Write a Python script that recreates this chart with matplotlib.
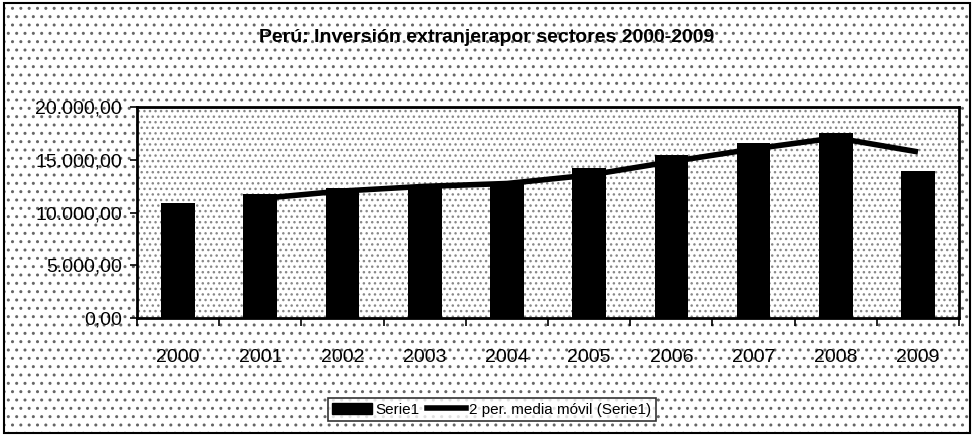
import numpy as np
import pandas as pd
import matplotlib
matplotlib.use('Agg')
import matplotlib.pyplot as plt
from matplotlib.patches import Rectangle, Patch
from matplotlib.lines import Line2D
from matplotlib.ticker import FuncFormatter

plt.rcParams['font.family'] = ['Liberation Sans', 'DejaVu Sans']
plt.rcParams['hatch.linewidth'] = 1.0

# datos
anios = ['2000', '2001', '2002', '2003', '2004', '2005', '2006', '2007', '2008', '2009']
serie1 = [10930, 11720, 12360, 12600, 12900, 14190, 15450, 16600, 17560, 13930]
# media movil de 2 periodos (como en Excel)
media_movil = pd.Series(serie1).rolling(2).mean().values

titulo = 'Perú: Inversión extranjerapor sectores 2000-2009'
yticks = [0, 5000, 10000, 15000, 20000]

fig = plt.figure(figsize=(9.74, 4.36), dpi=100)
fig.patch.set_facecolor('white')
# fondo punteado del grafico completo
fondo = Rectangle((0.004, 0.006), 0.992, 0.988, transform=fig.transFigure,
                  facecolor='white', edgecolor='#666666', hatch='..', lw=0, zorder=0)
fig.patches.append(fondo)
borde = Rectangle((0.004, 0.006), 0.992, 0.988, transform=fig.transFigure,
                  facecolor='none', edgecolor='black', lw=1.5, zorder=1)
fig.patches.append(borde)

ax = fig.add_axes([0.1407, 0.2706, 0.844, 0.484])
ax.set_zorder(5)
ax.patch.set_facecolor('white')
ax.patch.set_edgecolor('#888888')
ax.patch.set_hatch('...')

x = np.arange(len(anios))
ax.plot(x, media_movil, color='black', lw=4, zorder=2, solid_capstyle='butt')
ax.bar(x, serie1, width=0.41, color='black', zorder=3)

ax.set_xlim(-0.5, len(anios) - 0.5)
ax.set_ylim(0, 20000)
ax.set_yticks(yticks)
ax.yaxis.set_major_formatter(FuncFormatter(
    lambda v, p: '{:,.2f}'.format(v).replace(',', 'X').replace('.', ',').replace('X', '.')))
ax.set_xticks(x)
ax.set_xticklabels(anios)
ax.set_xticks(np.arange(-0.5, len(anios)), minor=True)
ax.tick_params(axis='x', which='major', length=0, pad=22, labelsize=14)
ax.tick_params(axis='x', which='minor', length=6, width=1.2, direction='out')
ax.tick_params(axis='y', length=5, width=1.2, direction='out', labelsize=14, pad=6)
for s in ax.spines.values():
    s.set_linewidth(2)

fig.text(0.5, 0.915, titulo, ha='center', va='center', fontsize=14, fontweight='bold')

h1 = Patch(facecolor='black', edgecolor='black')
h2 = Line2D([0], [0], color='black', lw=4)
leg = fig.legend([h1, h2], ['Serie1', '2 per. media móvil (Serie1)'],
                 loc='center', bbox_to_anchor=(0.505, 0.06), ncol=2, fontsize=11,
                 frameon=True, fancybox=False, edgecolor='black', handlelength=2.6,
                 handletextpad=0.2, columnspacing=0.5, borderpad=0.3)
leg.get_frame().set_linewidth(1.2)

fig.savefig('out.png', dpi=100)
